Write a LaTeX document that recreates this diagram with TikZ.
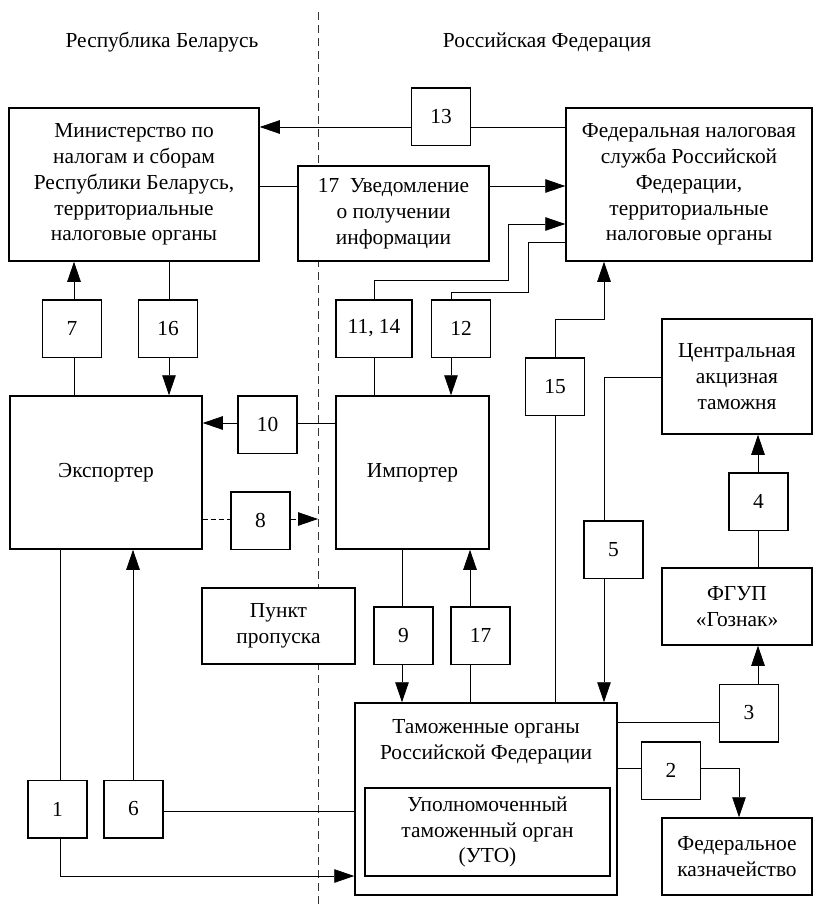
\documentclass[tikz,border=0pt]{standalone}
\usepackage{fontspec}
\setmainfont{Liberation Serif}
\usetikzlibrary{arrows.meta}
\tikzset{
  bx/.style 2 args={draw, line width=0.75pt, fill=white, inner sep=0pt, align=center, minimum width=#1, minimum height=#2},
  nb/.style={bx={29.5pt}{28.75pt}},
  conn/.style={line width=0.4pt},
  arr/.style={conn, -{Triangle[length=10pt,width=6.75pt]}},
  border/.style={line width=0.5pt, black!80, dash pattern=on 4pt off 2.5pt},
  dconn/.style={line width=0.4pt, dash pattern=on 2.5pt off 1.5pt}
}
\begin{document}
\begin{tikzpicture}[x=0.5pt,y=-0.5pt, font=\fontsize{10.7}{12.9}\selectfont]
\useasboundingbox (0,0) rectangle (813,909);
% border line
\coordinate (btop) at (318,12);
\coordinate (bbot) at (318,909);
\draw[border] (btop) -- (bbot);
% titles
\node (tby) at (162,42) {Республика Беларусь};
\node (tru) at (547,42) {Российская Федерация};
% boxes
\node[bx={125pt}{76.5pt}] (minfin) at (134,184.5) {Министерство по\\налогам и сборам\\Республики Беларусь,\\территориальные\\налоговые органы};
\node[bx={123pt}{76.5pt}] (fns) at (689,184.5) {Федеральная налоговая\\служба Российской\\Федерации,\\территориальные\\налоговые органы};
\node[nb] (b13) at (441,117) {13};
\node[bx={95.5pt}{47.5pt}] (b17u) at (393.5,213.5) {17\ \ Уведомление\\о получении\\информации};
\node[nb] (b7) at (72,328.5) {7};
\node[nb] (b16) at (168,328.5) {16};
\node[bx={38pt}{28.75pt}] (b1114) at (374,328.5) {11, 14};
\node[nb] (b12) at (461,328.5) {12};
\node[nb] (b15) at (555,386.5) {15};
\node[bx={75pt}{57.5pt}] (cae) at (737,376.5) {Центральная\\акцизная\\таможня};
\node[bx={96pt}{76.5pt}] (exp) at (106,472.5) {Экспортер};
\node[nb] (b10) at (267.5,424.5) {10};
\node[bx={76.5pt}{76.5pt}] (imp) at (412.5,472.5) {Импортер};
\node[nb] (b8) at (260.5,520.5) {8};
\node[nb] (b5) at (613.5,549.5) {5};
\node[nb] (b4) at (758.5,501.5) {4};
\node[bx={75pt}{38.5pt}] (fgup) at (737,606.5) {ФГУП\\«Гознак»};
\node[bx={76.5pt}{38pt}] (pp) at (278.5,626) {Пункт\\пропуска};
\node[nb] (b9) at (403.5,635.5) {9};
\node[nb] (b17) at (480.5,635.5) {17};
\node[nb] (b3) at (749,713) {3};
\node[bx={131pt}{96pt}] (tam) at (486,799) {};
\node[align=center] (tamt) at (486,742) {Таможенные органы\\Российской Федерации};
\node[bx={122.5pt}{44pt}] (uto) at (487.5,832) {Уполномоченный\\таможенный орган\\(УТО)};
\node[nb] (b2) at (671,770.5) {2};
\node[bx={75pt}{38.5pt}] (fk) at (737,856.5) {Федеральное\\казначейство};
\node[nb] (b1) at (57.5,809) {1};
\node[nb] (b6) at (133.5,809) {6};
% helper coordinates
\coordinate (y127) at (0,127);
\coordinate (y186) at (0,186);
\coordinate (y224) at (0,224);
\coordinate (y242) at (0,242);
\coordinate (y377) at (0,377);
\coordinate (y423) at (0,423);
\coordinate (y519) at (0,519);
\coordinate (y722) at (0,722);
\coordinate (y768) at (0,768);
\coordinate (y811) at (0,811);
\coordinate (y876) at (0,876);
\coordinate (x60) at (60,0);
\coordinate (x74) at (74,0);
\coordinate (x133) at (133,0);
\coordinate (x169) at (169,0);
\coordinate (x402) at (402,0);
\coordinate (x451) at (451,0);
\coordinate (x470) at (470,0);
\coordinate (x555) at (555,0);
\coordinate (x604) at (604,0);
\coordinate (x739) at (739,0);
\coordinate (x758) at (758,0);
\coordinate (k1) at (508,280);
\coordinate (k2) at (528,292);
\coordinate (k3) at (604,319);
\coordinate (k8) at (318,519);
% connectors
\draw[conn] (fns.west |- y127) -- (b13.east |- y127);
\draw[arr] (b13.west |- y127) -- (minfin.east |- y127);
\draw[conn] (minfin.east |- y186) -- (b17u.west |- y186);
\draw[arr] (b17u.east |- y186) -- (fns.west |- y186);
\draw[conn] (b1114.south) -- (imp.north -| b1114);
\draw[arr] (b1114.north) |- (k1) |- (fns.west |- y224);
\draw[conn] (fns.west |- y242) -| (k2) -| (b12.north -| x451);
\draw[arr] (b12.south -| x451) -- (imp.north -| x451);
\draw[conn] (tam.north -| x555) -- (b15.south -| x555);
\draw[arr] (b15.north -| x555) |- (k3) -- (fns.south -| k3);
\draw[conn] (cae.west |- y377) -| (b5.north -| x604);
\draw[arr] (b5.south -| x604) -- (tam.north -| x604);
\draw[conn] (fgup.north -| x758) -- (b4.south -| x758);
\draw[arr] (b4.north -| x758) -- (cae.south -| x758);
\draw[conn] (tam.east |- y722) -- (b3.west |- y722);
\draw[arr] (b3.north -| x758) -- (fgup.south -| x758);
\draw[conn] (tam.east |- y768) -- (b2.west |- y768);
\draw[arr] (b2.east |- y768) -| (fk.north -| x739);
\draw[conn] (imp.south -| x402) -- (b9.north -| x402);
\draw[arr] (b9.south -| x402) -- (tam.north -| x402);
\draw[conn] (tam.north -| x470) -- (b17.south -| x470);
\draw[arr] (b17.north -| x470) -- (imp.south -| x470);
\draw[conn] (exp.north -| x74) -- (b7.south -| x74);
\draw[arr] (b7.north -| x74) -- (minfin.south -| x74);
\draw[conn] (minfin.south -| x169) -- (b16.north -| x169);
\draw[arr] (b16.south -| x169) -- (exp.north -| x169);
\draw[conn] (imp.west |- y423) -- (b10.east |- y423);
\draw[arr] (b10.west |- y423) -- (exp.east |- y423);
\draw[dconn] (exp.east |- y519) -- (b8.west |- y519);
\draw[dconn, arr, dash pattern=on 2.5pt off 1.5pt] (b8.east |- y519) -- (k8);
\draw[conn] (exp.south -| x60) -- (b1.north -| x60);
\draw[arr] (b1.south -| x60) |- (tam.west |- y876);
\draw[conn] (b6.east |- y811) -- (tam.west |- y811);
\draw[arr] (b6.north -| x133) -- (exp.south -| x133);
\end{tikzpicture}
\end{document}
